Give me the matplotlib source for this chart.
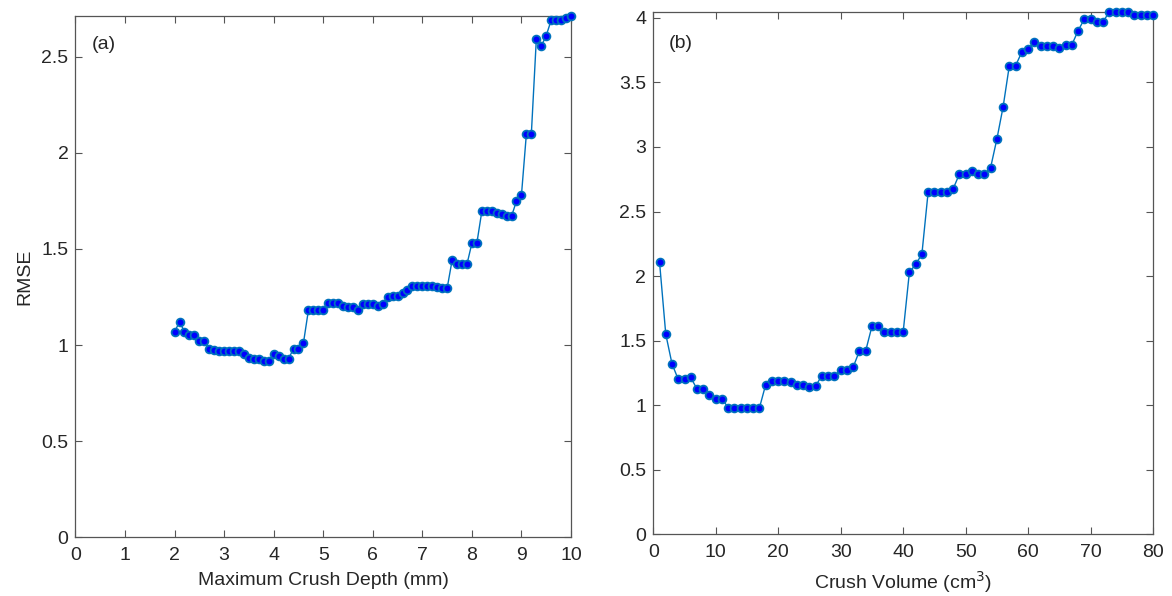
import matplotlib
matplotlib.use("Agg")
import matplotlib.pyplot as plt
import numpy as np

plt.rcParams['font.family'] = ['Liberation Sans', 'DejaVu Sans']

# Panel (a): RMSE versus maximum crush depth
depth_mm = np.round(np.arange(2.0, 10.01, 0.1), 1)
rmse_depth = [
    1.07, 1.12, 1.07, 1.05, 1.05, 1.02, 1.02, 0.98, 0.975, 0.97,
    0.97, 0.97, 0.97, 0.97, 0.955, 0.935, 0.93, 0.93, 0.915, 0.915,
    0.955, 0.945, 0.93, 0.93, 0.98, 0.98, 1.01, 1.18, 1.18, 1.18,
    1.18, 1.22, 1.22, 1.22, 1.205, 1.20, 1.20, 1.18, 1.215, 1.215,
    1.215, 1.205, 1.215, 1.25, 1.255, 1.255, 1.27, 1.285, 1.305, 1.305,
    1.305, 1.305, 1.305, 1.30, 1.295, 1.295, 1.44, 1.42, 1.42, 1.42,
    1.53, 1.53, 1.695, 1.695, 1.695, 1.685, 1.68, 1.67, 1.67, 1.75,
    1.78, 2.10, 2.10, 2.59, 2.555, 2.61, 2.69, 2.69, 2.69, 2.70,
    2.712,
]

# Panel (b): RMSE versus crush volume
volume_cm3 = np.arange(1, 81)
rmse_volume = [
    2.11, 1.55, 1.32, 1.20, 1.20, 1.215, 1.125, 1.125, 1.08, 1.05,
    1.05, 0.98, 0.98, 0.98, 0.98, 0.98, 0.98, 1.16, 1.19, 1.19,
    1.19, 1.18, 1.16, 1.16, 1.14, 1.15, 1.23, 1.23, 1.23, 1.27,
    1.275, 1.295, 1.42, 1.42, 1.61, 1.61, 1.565, 1.565, 1.565, 1.565,
    2.03, 2.09, 2.17, 2.65, 2.65, 2.65, 2.65, 2.675, 2.79, 2.79,
    2.815, 2.79, 2.79, 2.84, 3.06, 3.31, 3.63, 3.63, 3.735, 3.755,
    3.815, 3.78, 3.78, 3.78, 3.77, 3.79, 3.79, 3.90, 3.99, 3.99,
    3.97, 3.97, 4.045, 4.045, 4.045, 4.045, 4.025, 4.025, 4.025, 4.025,
]

xticks_a = np.arange(0, 11, 1)
yticks_a = [0, 0.5, 1, 1.5, 2, 2.5]
xticks_b = np.arange(0, 81, 10)
yticks_b = [0, 0.5, 1, 1.5, 2, 2.5, 3, 3.5, 4]

line_color = '#0072BD'
face_color = '#0000FF'
text_color = '#262626'
spine_color = '#555555'
fs = 14

fig = plt.figure(figsize=(11.72, 5.96), dpi=100)
ax_a = fig.add_axes([0.0644, 0.0985, 0.4228, 0.8747])
ax_b = fig.add_axes([0.5574, 0.1035, 0.4264, 0.8763])


def style_axes(ax, xt, yt, xlim, ylim):
    ax.set_xlim(*xlim)
    ax.set_ylim(*ylim)
    ax.set_xticks(xt)
    ax.set_yticks(yt)
    ax.set_yticklabels([f"{v:g}" for v in yt])
    ax.tick_params(direction='in', top=True, right=True, length=5,
                   width=0.8, colors=spine_color, labelcolor=text_color,
                   labelsize=fs, pad=5)
    ax.tick_params(axis='x', pad=7)
    for s in ax.spines.values():
        s.set_color(spine_color)
        s.set_linewidth(0.9)


for ax, x, y in ((ax_a, depth_mm, rmse_depth), (ax_b, volume_cm3, rmse_volume)):
    ax.plot(x, y, '-', color=line_color, lw=1.0, marker='o', ms=5.6,
            mfc=face_color, mec=line_color, mew=1.3, clip_on=False, zorder=3)

style_axes(ax_a, xticks_a, yticks_a, (0, 10), (0, max(rmse_depth)))
style_axes(ax_b, xticks_b, yticks_b, (0, 80), (0, max(rmse_volume)))

ax_a.set_xlabel('Maximum Crush Depth (mm)', fontsize=fs, color=text_color, labelpad=6)
ax_a.set_ylabel('RMSE', fontsize=fs, color=text_color, labelpad=6)
ax_b.set_xlabel('Crush Volume (cm$^3$)', fontsize=fs, color=text_color, labelpad=6)

ax_a.text(0.033, 0.945, '(a)', transform=ax_a.transAxes, fontsize=fs,
          color=text_color, ha='left', va='center')
ax_b.text(0.030, 0.94, '(b)', transform=ax_b.transAxes, fontsize=fs,
          color=text_color, ha='left', va='center')

fig.savefig('out.png', dpi=100, facecolor='white')
